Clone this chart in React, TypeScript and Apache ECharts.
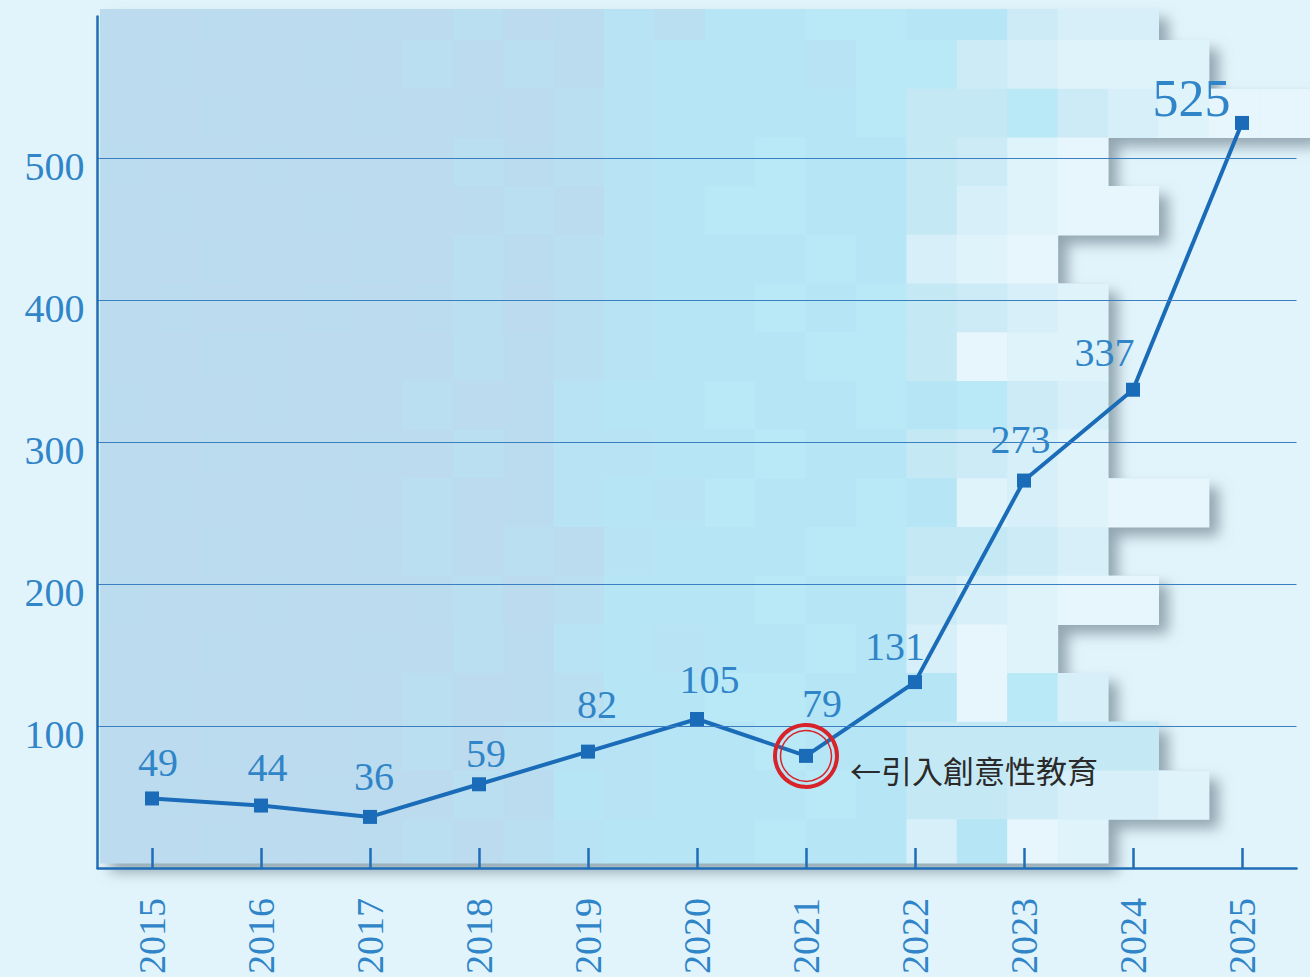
import React, { useEffect, useRef } from "react";
import * as echarts from "echarts";

// ---- data ----
const years = ["2015", "2016", "2017", "2018", "2019", "2020", "2021", "2022", "2023", "2024", "2025"];
const values = [49, 44, 36, 59, 82, 105, 79, 131, 273, 337, 525];
const yTicks = [100, 200, 300, 400, 500];
const highlightYear = "2021";
const highlightValue = 79;
const annotation = "←引入創意性教育";

// ---- label styling (offsets relative to each point) ----
const labelOffsets: [number, number][] = [
  [6, -36], [6.5, -38], [4, -40], [7, -31], [9, -47], [12.5, -39],
  [16, -52], [-20, -36], [-3.5, -41], [-28.5, -37.5], [-50.5, -24.5],
];
const labelSizes = [40, 40, 40, 40, 40, 40, 40, 40, 40, 40, 52];

// ---- decorative mosaic background ----
const palette: Record<string, string> = {
  a: "#bcdbee", b: "#bbdcef", c: "#badff1", d: "#b8e3f4", e: "#b6e6f6",
  f: "#b9e9f7", g: "#c4e9f5", h: "#cdebf6", i: "#d6eff8", j: "#dff3fa", k: "#e7f6fc",
};
const mosaicRows = [
  "aabaabacabdceeffeehii",
  "abaabacacbdeeedffhijjj",
  "aabaababacdeeeefggfhijkk",
  "baabaaacbcdeefeeghjk",
  "abaabaabcbdeffeegijkk",
  "aabaabacbcdeeefeijk",
  "abaababcacdeefefghij",
  "aabbaaacbcdeeeffgkjj",
  "baabaacabdeefeefefhi",
  "aabaabacbddeefeeghij",
  "abaabacabdedfeefejijkk",
  "aabaabcacbdeeeffgghi",
  "baabaabcaceeefeehijkk",
  "aabaabacbdedeefeikj",
  "abaabacabceeffeeekfi",
  "aabaabcacddeefeeggggg",
  "abaabaacbedeeefegghiij",
  "aabaabcacdeeefeeiekj",
];

const PAGE_BG = "#e2f4fb";
const TEXT_BLUE = "#3085c8";
const LINE_BLUE = "#1a6cb8";
const AXIS_BLUE = "#1f6db6";
const SERIF = "'Liberation Serif', 'DejaVu Serif', serif";

function buildMosaic() {
  const x0 = 100;
  const cw = 50.4;
  const rh = 48.7;
  const tops = mosaicRows.map((_, r) => (r === 0 ? 9 : 40 + rh * (r - 1)));
  const bottoms = mosaicRows.map((_, r) => (r === mosaicRows.length - 1 ? 863 : 40 + rh * r));
  const pts: number[][] = [[x0, tops[0]]];
  mosaicRows.forEach((row, r) => {
    const xe = Math.min(x0 + cw * row.length, 1310);
    pts.push([xe, tops[r]]);
    pts.push([xe, bottoms[r]]);
  });
  pts.push([x0, bottoms[bottoms.length - 1]]);
  const els: any[] = [
    {
      type: "polygon",
      silent: true,
      z: 0,
      shape: { points: pts },
      style: {
        fill: "#bcdbee",
        shadowBlur: 14,
        shadowOffsetX: 10,
        shadowOffsetY: 9,
        shadowColor: "rgba(105,125,138,0.65)",
      },
    },
  ];
  mosaicRows.forEach((row, r) => {
    for (let c = 0; c < row.length; c++) {
      const x = x0 + cw * c;
      const w = Math.min(cw + 0.6, 1310 - x);
      els.push({
        type: "rect",
        silent: true,
        z: 1,
        shape: { x, y: tops[r], width: w, height: bottoms[r] - tops[r] + 0.6 },
        style: { fill: palette[row[c]] },
      });
    }
  });
  return els;
}

export default function App() {
  const ref = useRef<HTMLDivElement>(null);
  useEffect(() => {
    if (!ref.current) return;
    const chart = echarts.init(ref.current, undefined, { renderer: "svg" });
    chart.setOption({
      animation: false,
      backgroundColor: PAGE_BG,
      graphic: { elements: buildMosaic() },
      grid: { left: 97.5, right: 13.5, top: 16.5, bottom: 105.5, containLabel: false },
      xAxis: {
        type: "category",
        data: years,
        boundaryGap: true,
        z: 5,
        axisLine: { show: true, lineStyle: { color: AXIS_BLUE, width: 2.5 } },
        axisTick: { show: true, alignWithLabel: true, inside: true, length: 20, lineStyle: { color: AXIS_BLUE, width: 2.5 } },
        axisLabel: { rotate: 90, margin: 30, fontSize: 38, fontFamily: SERIF, color: TEXT_BLUE },
        splitLine: { show: false },
      },
      yAxis: {
        type: "value",
        min: 0,
        max: 600,
        interval: 100,
        z: 5,
        axisLine: { show: true, lineStyle: { color: AXIS_BLUE, width: 2.5 } },
        axisTick: { show: false },
        splitLine: { show: false },
        axisLabel: {
          margin: 13,
          fontSize: 40,
          fontFamily: SERIF,
          color: TEXT_BLUE,
          formatter: (v: number) => (yTicks.indexOf(v) >= 0 ? "{t|" + v + "}" : ""),
          rich: {
            t: { fontSize: 40, fontFamily: SERIF, color: TEXT_BLUE, padding: [16, 0, 0, 0] },
          },
        },
      },
      series: [
        {
          type: "line",
          data: values.map((v, i) => ({
            value: v,
            label: { offset: labelOffsets[i], fontSize: labelSizes[i] },
          })),
          symbol: "rect",
          symbolSize: 14,
          itemStyle: { color: LINE_BLUE },
          lineStyle: { color: LINE_BLUE, width: 4 },
          label: {
            show: true,
            position: "inside",
            fontFamily: SERIF,
            fontSize: 40,
            color: TEXT_BLUE,
          },
          markLine: {
            silent: true,
            symbol: "none",
            label: { show: false },
            lineStyle: { color: "#3a7fc1", width: 1.2, type: "solid" },
            data: yTicks.map((v) => ({ yAxis: v })),
          },
          markPoint: {
            silent: true,
            symbol: "circle",
            data: [
              {
                coord: [highlightYear, highlightValue],
                symbolSize: 62,
                itemStyle: { color: "rgba(0,0,0,0)", borderColor: "#d9232a", borderWidth: 4 },
                label: {
                  show: true,
                  position: "right",
                  distance: 11,
                  offset: [0, 14],
                  formatter: annotation,
                  fontFamily: "'Noto Sans CJK TC', 'Noto Sans CJK SC', sans-serif",
                  fontSize: 31,
                  color: "#2a2a2a",
                },
              },
              {
                coord: [highlightYear, highlightValue],
                symbolSize: 51,
                itemStyle: { color: "rgba(0,0,0,0)", borderColor: "#d9232a", borderWidth: 1.5 },
                label: { show: false },
              },
            ],
          },
        },
      ],
    });
    return () => chart.dispose();
  }, []);
  return (
    <div style={{ position: "fixed", left: 0, top: 0, width: 1310, height: 977, background: PAGE_BG }}>
      <div ref={ref} style={{ width: 1310, height: 977 }} />
    </div>
  );
}
